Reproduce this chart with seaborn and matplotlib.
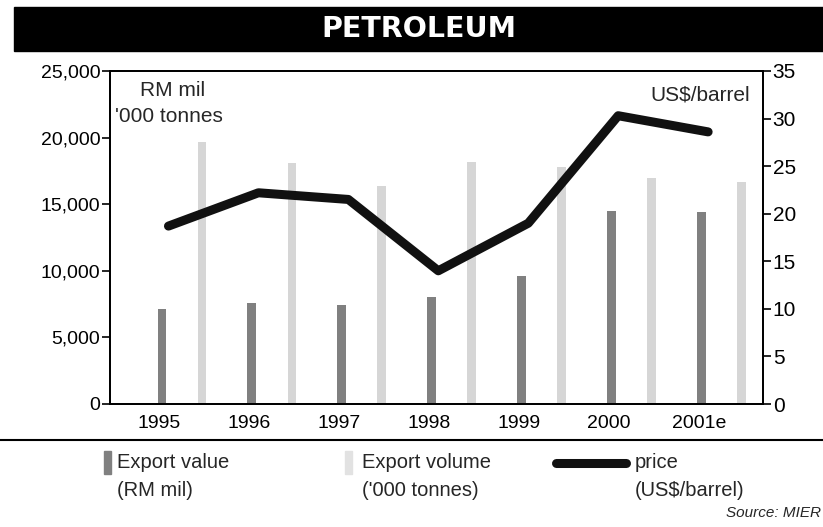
import numpy as np
import pandas as pd
import matplotlib
matplotlib.use('Agg')
import matplotlib.pyplot as plt
import seaborn as sns
from matplotlib.patches import Rectangle
from matplotlib.lines import Line2D
from matplotlib.ticker import FuncFormatter

# values
years = ['1995', '1996', '1997', '1998', '1999', '2000', '2001e']
export_value = [7100, 7600, 7400, 8000, 9600, 14500, 14400]      # RM mil
export_volume = [19700, 18100, 16400, 18200, 17800, 17000, 16700]  # '000 tonnes
price = [18.7, 22.2, 21.5, 14.0, 19.0, 30.3, 28.6]                 # US$/barrel

sns.set_style('ticks')
plt.rcParams['font.family'] = ['Liberation Sans', 'DejaVu Sans']

W, H = 823, 527


def fx(px):
    return px / W


def fy(py):
    return 1 - py / H


df = pd.DataFrame({
    'year': years * 2,
    'amount': export_value + export_volume,
    'series': ['Export value'] * len(years) + ['Export volume'] * len(years),
})

fig = plt.figure(figsize=(W / 100, H / 100), dpi=100)
ax = fig.add_axes([fx(110), fy(404), (763 - 110) / W, (404 - 71) / H])

sns.barplot(data=df, x='year', y='amount', hue='series',
            palette=['#808080', '#d6d6d6'], saturation=1,
            width=0.89, gap=0.78, linewidth=0, legend=False, ax=ax)
ax.set_xlim(-0.8, 6.46)
ax.set_ylim(0, 25000)
ax.set_yticks(range(0, 25001, 5000))
ax.yaxis.set_major_formatter(FuncFormatter(lambda v, p: f'{v:,.0f}'))
# year labels sit under the value bars
ax.set_xticks(np.arange(len(years)) - 0.25)
ax.set_xticklabels(years)
ax.set_xlabel('')
ax.set_ylabel('')
ax.tick_params(axis='y', labelsize=14, length=6, width=1.2, pad=1, colors='black')
ax.tick_params(axis='x', labelsize=14, length=0, pad=8, colors='black')
for s in ax.spines.values():
    s.set_visible(True)
    s.set_linewidth(1.3)
    s.set_color('black')

ax2 = ax.twinx()
sns.lineplot(x=np.arange(len(years)) - 0.15, y=price, ax=ax2, color='#111111',
             lw=6.5, solid_capstyle='round', solid_joinstyle='round')
ax2.set_ylim(0, 35)
ax2.set_yticks(range(0, 36, 5))
ax2.set_ylabel('')
ax2.tick_params(axis='y', labelsize=15, length=6, width=1.2, pad=1, colors='black')
for s in ax2.spines.values():
    s.set_linewidth(1.3)
    s.set_color('black')

# unit labels
fig.text(fx(140), fy(90), 'RM mil', fontsize=15, va='center')
fig.text(fx(115), fy(117), "'000 tonnes", fontsize=15, va='center')
fig.text(fx(750), fy(95), 'US$/barrel', fontsize=15, va='center', ha='right')

# title bar
fig.patches.append(Rectangle((fx(14), fy(51)), (W - 14) / W, 44 / H,
                             transform=fig.transFigure, color='black', zorder=0))
fig.text(fx(419), fy(29), 'PETROLEUM', ha='center', va='center', color='white',
         fontsize=20.5, fontweight='bold', family=['DejaVu Sans'])

# separator
fig.lines.append(Line2D([0, 1], [fy(440), fy(440)], transform=fig.transFigure,
                        color='black', lw=1.5))

# legend drawn by hand
fig.patches.append(Rectangle((fx(104), fy(474)), 7 / W, 23 / H,
                             transform=fig.transFigure, color='#808080'))
fig.text(fx(117), fy(463), 'Export value', fontsize=14.5, va='center')
fig.text(fx(117), fy(491), '(RM mil)', fontsize=14.5, va='center')
fig.patches.append(Rectangle((fx(345), fy(474)), 7 / W, 23 / H,
                             transform=fig.transFigure, color='#e2e2e2'))
fig.text(fx(362), fy(463), 'Export volume', fontsize=14.5, va='center')
fig.text(fx(362), fy(491), "('000 tonnes)", fontsize=14.5, va='center')
fig.lines.append(Line2D([fx(556), fx(626)], [fy(463), fy(463)],
                        transform=fig.transFigure, color='#111111', lw=6.5,
                        solid_capstyle='round'))
fig.text(fx(635), fy(463), 'price', fontsize=14.5, va='center')
fig.text(fx(635), fy(491), '(US$/barrel)', fontsize=14.5, va='center')
fig.text(fx(821), fy(513), 'Source: MIER', fontsize=11, va='center',
         ha='right', style='italic')

fig.savefig('out.png', dpi=100)
